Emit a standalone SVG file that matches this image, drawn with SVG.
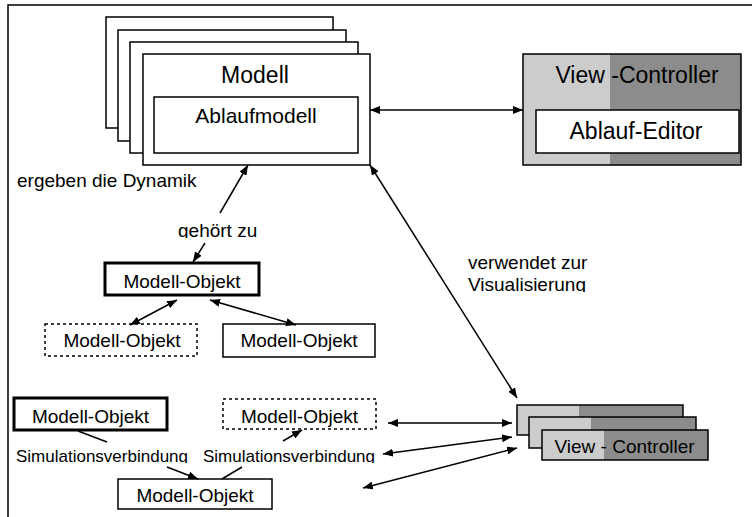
<svg xmlns="http://www.w3.org/2000/svg" width="752" height="517" viewBox="0 0 752 517">
<style>
text{font-family:"Liberation Sans",Arial,sans-serif;fill:#000}
.t19{font-size:19px}
.t17{font-size:17px}
.c{text-anchor:middle}
.box{fill:#fff;stroke:#000;stroke-width:1.5}
.thick{fill:#fff;stroke:#000;stroke-width:3}
.dash{fill:#fff;stroke:#000;stroke-width:1.5;stroke-dasharray:3 3}
.lt{fill:#cccccc}
.dk{fill:#8c8c8c}
.ol{fill:none;stroke:#000;stroke-width:1.5}
.ln{stroke:#000;stroke-width:1.5;fill:none}
</style>
<defs>
<marker id="ah" viewBox="0 0 10 8" refX="10" refY="4" markerWidth="10" markerHeight="8" markerUnits="userSpaceOnUse" orient="auto-start-reverse">
<path d="M0,0 L10,4 L0,8 z" fill="#000"/>
</marker>
<clipPath id="cg"><rect x="170" y="215" width="100" height="23"/></clipPath>
<clipPath id="cs"><rect x="0" y="440" width="400" height="23"/></clipPath>
<clipPath id="cv"><rect x="460" y="270" width="150" height="22"/></clipPath>
</defs>
<rect x="8" y="5" width="760" height="530" fill="#fff" stroke="#000" stroke-width="1.5"/>
<g id="modell">
<rect class="box" x="106" y="17" width="227" height="111"/>
<rect class="box" x="118" y="30" width="228" height="111"/>
<rect class="box" x="130" y="42" width="228" height="111"/>
<rect class="box" x="143" y="54" width="227" height="111"/>
<text x="255" y="83" class="c" font-size="23">Modell</text>
<g id="ablaufmodell">
<rect class="box" x="154" y="97" width="204" height="56"/>
<text x="256" y="123" class="c" font-size="21">Ablaufmodell</text>
</g>
</g>
<g id="view-controller">
<rect class="lt" x="523" y="54" width="87" height="111"/>
<rect class="dk" x="610" y="54" width="131" height="111"/>
<rect class="ol" x="523" y="54" width="218" height="111"/>
<text x="637" y="83" class="c" font-size="23">View -Controller</text>
<g id="ablauf-editor">
<rect class="box" x="536" y="110" width="203" height="43"/>
<text x="636" y="139" class="c" font-size="23">Ablauf-Editor</text>
</g>
</g>
<g id="labels">
<text x="17" y="187" class="t19">ergeben die Dynamik</text>
<text x="178" y="237" class="t19" clip-path="url(#cg)">gehört zu</text>
<text x="468" y="269" class="t19">verwendet zur</text>
<text x="468" y="291" class="t19" clip-path="url(#cv)">Visualisierung</text>
<g clip-path="url(#cs)">
<text x="16" y="462" class="t17">Simulationsverbindung</text>
<text x="203" y="462" class="t17">Simulationsverbindung</text>
</g>
</g>
<g id="mo-top">
<rect class="thick" x="105" y="263" width="154" height="32"/>
<text x="182" y="288" class="t19 c">Modell-Objekt</text>
</g>
<g id="mo-left">
<rect class="dash" x="45" y="324" width="152" height="32"/>
<text x="122" y="347" class="t19 c">Modell-Objekt</text>
</g>
<g id="mo-right">
<rect class="box" x="223" y="324" width="152" height="33"/>
<text x="299" y="347" class="t19 c">Modell-Objekt</text>
</g>
<g id="mo-sim1">
<rect class="thick" x="14" y="398" width="153" height="32"/>
<text x="90.5" y="423" class="t19 c">Modell-Objekt</text>
</g>
<g id="mo-sim2">
<rect class="dash" x="223" y="399" width="153" height="30"/>
<text x="299.5" y="423" class="t19 c">Modell-Objekt</text>
</g>
<g id="mo-sim3">
<rect class="box" x="118" y="479" width="154" height="30"/>
<text x="195" y="502" class="t19 c">Modell-Objekt</text>
</g>
<g id="vc-stack">
<rect class="lt" x="517" y="405" width="62" height="30"/><rect class="dk" x="579" y="405" width="104" height="30"/><rect class="ol" x="517" y="405" width="166" height="30"/>
<rect class="lt" x="529" y="417" width="62" height="31"/><rect class="dk" x="591" y="417" width="105" height="31"/><rect class="ol" x="529" y="417" width="167" height="31"/>
<rect class="lt" x="542" y="430" width="62" height="30"/><rect class="dk" x="604" y="430" width="104" height="30"/><rect class="ol" x="542" y="430" width="166" height="30"/>
<text x="624.5" y="453" class="t19 c">View - Controller</text>
</g>
<g id="connectors">
<line class="ln" x1="370" y1="110" x2="523" y2="110" marker-start="url(#ah)" marker-end="url(#ah)"/>
<line class="ln" x1="220" y1="213" x2="248" y2="165" marker-end="url(#ah)"/>
<line class="ln" x1="205" y1="243" x2="193" y2="262" marker-end="url(#ah)"/>
<line class="ln" x1="177" y1="300" x2="130" y2="325" marker-start="url(#ah)" marker-end="url(#ah)"/>
<line class="ln" x1="210" y1="300" x2="296" y2="325" marker-start="url(#ah)" marker-end="url(#ah)"/>
<line class="ln" x1="370" y1="165" x2="517" y2="398" marker-start="url(#ah)" marker-end="url(#ah)"/>
<line class="ln" x1="78" y1="431" x2="107" y2="442"/>
<line class="ln" x1="167" y1="467" x2="198" y2="479" marker-end="url(#ah)"/>
<line class="ln" x1="222" y1="479" x2="242" y2="467"/>
<line class="ln" x1="283" y1="441" x2="302" y2="430" marker-end="url(#ah)"/>
<line class="ln" x1="388" y1="423" x2="512" y2="423" marker-start="url(#ah)" marker-end="url(#ah)"/>
<line class="ln" x1="383" y1="454" x2="512" y2="437" marker-start="url(#ah)" marker-end="url(#ah)"/>
<line class="ln" x1="363" y1="488" x2="517" y2="448" marker-start="url(#ah)" marker-end="url(#ah)"/>
</g>
</svg>
